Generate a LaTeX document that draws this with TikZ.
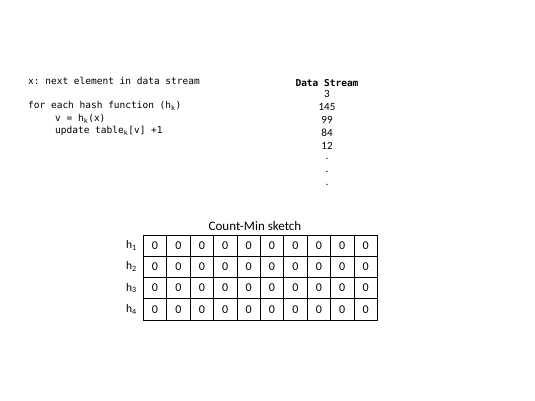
\documentclass[tikz,border=0pt]{standalone}
\usepackage{fontspec}
\setmainfont{Carlito}
\setmonofont{DejaVu Sans Mono}
\begin{document}
\begin{tikzpicture}[x=1pt,y=-1pt,
code/.style={anchor=west,inner sep=0pt,font=\fontsize{9.5}{11}\ttfamily},
stream/.style={inner sep=0pt,font=\fontsize{11}{13}\selectfont},
cell/.style={draw,minimum width=23.4pt,minimum height=21.25pt,inner sep=0pt,outer sep=0pt,line width=0.8pt,font=\fontsize{12}{14}\selectfont},
hash/.style={inner sep=0pt,font=\fontsize{11.5}{13}\selectfont}]
\useasboundingbox (0,0) rectangle (535,401);
\node[code] (line1) at (28,81) {x: next element in data stream};
\node[code] (line2) at (28,106) {for each hash function (h\textsubscript{k})};
\node[code] (line3) at (55,119) {v = h\textsubscript{k}(x)};
\node[code] (line4) at (55,131) {update table\textsubscript{k}[v] +1};
\node[inner sep=0pt,font=\fontsize{9.5}{11}\ttfamily\bfseries] (head) at (327,83) {Data Stream};
\foreach \v [count=\i] in {3,145,99,84,12,.,.,.}
  \node[stream] (s\i) at (327,{94+13*(\i-1)}) {\v};
\node[inner sep=0pt,font=\fontsize{13}{15}\selectfont] (title) at (255,226) {Count-Min sketch};
\foreach \r in {1,...,4}{
  \node[hash] (h\r) at (131.5,{235+21.25*(\r-0.5)}) {h\textsubscript{\r}};
  \foreach \c in {1,...,10}
    \node[cell] (c-\r-\c) at ({143.3+23.4*(\c-0.5)},{235+21.25*(\r-0.5)}) {0};
}
\end{tikzpicture}
\end{document}
